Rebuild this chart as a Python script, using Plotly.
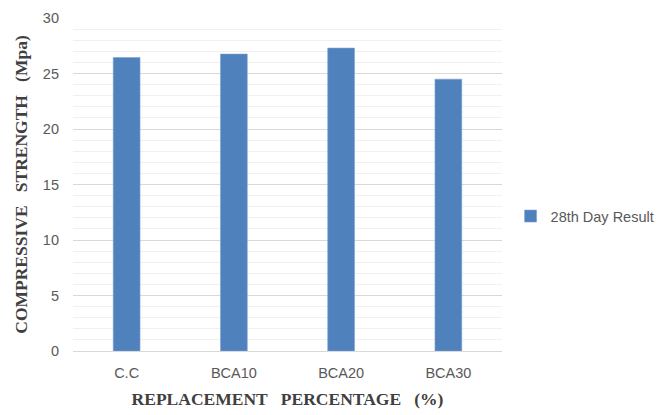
import plotly.graph_objects as go

categories = ["C.C", "BCA10", "BCA20", "BCA30"]
strength_28d = [26.44, 26.75, 27.29, 24.49]
series_name = "28th Day Result"

fig = go.Figure()
fig.add_trace(go.Bar(
    x=categories, y=strength_28d, name=series_name,
    marker=dict(color="#4F81BD", line=dict(color="#7FA3D3", width=0.6)),
    showlegend=True,
))

tick_font = dict(family="Liberation Sans, Arial, sans-serif", size=14.5, color="#595959")
title_font = dict(family="Liberation Serif, Times New Roman, serif", size=17.5, color="#404040")
sp = "\u00a0\u00a0\u00a0"

fig.update_layout(
    width=670, height=415,
    margin=dict(l=73, r=168, t=18, b=64, autoexpand=False),
    paper_bgcolor="white", plot_bgcolor="white",
    bargap=0.75,
    showlegend=True,
    legend=dict(x=1.02, xanchor="left", y=0.405, yanchor="middle",
                font=dict(family="Liberation Sans, Arial, sans-serif", size=14.5, color="#595959"),
                itemwidth=30, bgcolor="rgba(0,0,0,0)"),
    xaxis=dict(
        automargin=False,
        tickfont=tick_font, showgrid=False, showline=True, linecolor="#D9D9D9", linewidth=1,
        ticks="", ticklabelstandoff=9,
        title=dict(text="<b>REPLACEMENT" + sp + "PERCENTAGE" + sp + "(%)</b>", font=title_font, standoff=12),
    ),
    yaxis=dict(
        automargin=False,
        range=[0, 30], dtick=5, tickfont=tick_font,
        showgrid=True, gridcolor="#D9D9D9", gridwidth=1,
        minor=dict(dtick=1, showgrid=True, gridcolor="#F0F0F0", gridwidth=1),
        zeroline=False, showline=False, ticks="", ticklabelstandoff=13,
        title=dict(text="<b>COMPRESSIVE" + sp + "STRENGTH" + sp + "(Mpa)</b>", font=title_font, standoff=10),
    ),
)

fig.write_html("out.html")
